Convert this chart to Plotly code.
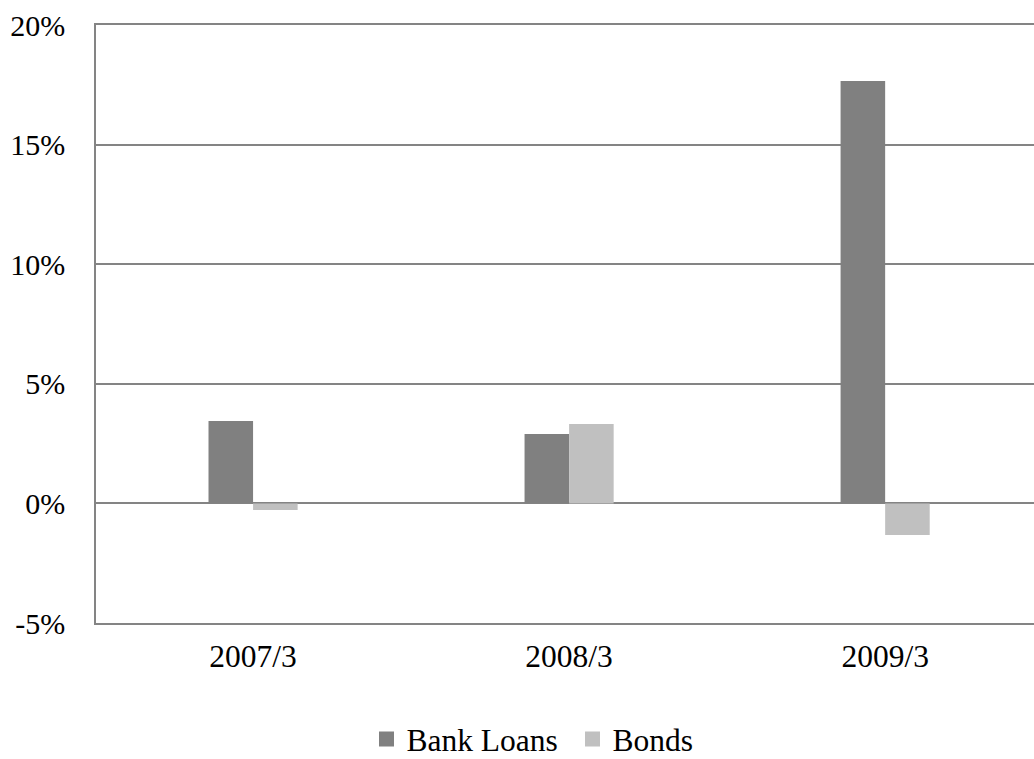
import plotly.graph_objects as go

categories = ["2007/3", "2008/3", "2009/3"]
bank_loans = [3.45, 2.90, 17.66]
bonds = [-0.28, 3.32, -1.32]
series_names = ["Bank Loans", "Bonds"]
series_colors = ["#808080", "#c0c0c0"]
y_ticks = [-5, 0, 5, 10, 15, 20]

FONT = "Liberation Serif"
GRID = "#848484"

fig = go.Figure()
for name, vals, col in zip(series_names, [bank_loans, bonds], series_colors):
    fig.add_trace(go.Bar(x=categories, y=vals, name=name, showlegend=False,
                         marker=dict(color=col, line=dict(width=0))))
# legend entries with larger square swatches
for name, col in zip(series_names, series_colors):
    fig.add_trace(go.Scatter(x=[None], y=[None], mode="markers", name=name,
                             marker=dict(symbol="square", size=15, color=col),
                             showlegend=True))

fig.update_layout(
    width=1034, height=759,
    margin=dict(l=96, r=0, t=25, b=136, autoexpand=False),
    paper_bgcolor="white", plot_bgcolor="white",
    barmode="group", bargap=0.718, bargroupgap=0,
    font=dict(family=FONT, size=30, color="black"),
    showlegend=True,
    legend=dict(orientation="h", x=0.508, xanchor="center", y=-0.194, yanchor="middle",
                font=dict(family=FONT, size=31.5, color="black"),
                itemwidth=30, entrywidth=161, entrywidthmode="pixels",
                traceorder="normal", bgcolor="rgba(0,0,0,0)"),
)
fig.update_xaxes(
    type="category", range=[-0.497, 2.471],
    showline=True, linecolor=GRID, linewidth=1.6, mirror=True,
    showgrid=False, ticks="", ticklabelstandoff=4,
    tickfont=dict(family=FONT, size=31.5, color="black"),
)
fig.update_yaxes(
    range=[-5, 20], tickvals=y_ticks, ticktext=[f"{v}%" for v in y_ticks],
    showgrid=True, gridcolor=GRID, gridwidth=1.5,
    zeroline=True, zerolinecolor=GRID, zerolinewidth=1.6,
    showline=True, linecolor=GRID, linewidth=1.6,
    ticks="", ticklabelstandoff=23,
    tickfont=dict(family=FONT, size=30, color="black"),
)

fig.write_html("out.html", config={"displayModeBar": False},
               post_script="document.body.style.margin='0px';")
